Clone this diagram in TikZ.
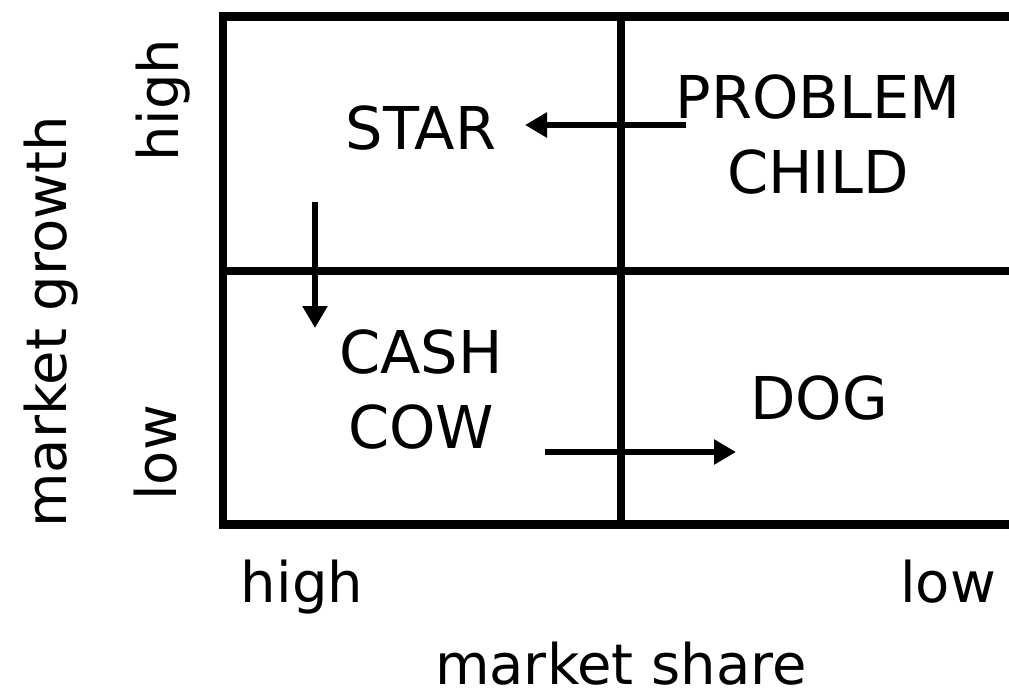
\documentclass[tikz,border=0pt]{standalone}
\usepackage{fontspec}
\setmainfont{DejaVu Sans}
\usetikzlibrary{arrows.meta}
\begin{document}
\begin{tikzpicture}[x=1pt,y=-1pt,
  grid/.style={line width=8.5pt},
  move/.style={line width=6pt,-{Triangle[length=22pt,width=24pt]}},
  lbl/.style={inner sep=0pt,font=\fontsize{56}{74}\selectfont},
  quadlbl/.style={inner sep=0pt,font=\fontsize{59}{75}\selectfont,align=center}]
\useasboundingbox (0,0) rectangle (1009,691);
\coordinate (tl) at (223,16.5);
\coordinate (tr) at (1009,16.5);
\coordinate (ml) at (223,271);
\coordinate (mr) at (1009,271);
\coordinate (bl) at (223,524.5);
\coordinate (br) at (1009,524.5);
\coordinate (vt) at (621,16.5);
\coordinate (vb) at (621,524.5);
\draw[grid] (tr) -- (tl) -- (bl) -- (br);
\draw[grid] (ml) -- (mr);
\draw[grid] (vt) -- (vb);
\node[quadlbl] (star) at (421,128) {STAR};
\node[quadlbl] (problem) at (818,135) {PROBLEM\\CHILD};
\node[quadlbl] (cash) at (421,390) {CASH\\COW};
\node[quadlbl] (dog) at (819,398) {DOG};
\node[lbl,anchor=base] (hx) at (302,602) {high};
\node[lbl,anchor=base] (lx) at (948,602) {low};
\node[lbl,anchor=base] (ms) at (621,684) {market share};
\node[lbl,rotate=90,anchor=base] (mg) at (66,322) {market growth};
\node[lbl,rotate=90,anchor=base] (hy) at (178,100) {high};
\node[lbl,rotate=90,anchor=base] (ly) at (176,453) {low};
\coordinate (a1s) at (686,125);
\coordinate (a1e) at (525,125);
\coordinate (a2s) at (315,202);
\coordinate (a2e) at (315,328);
\coordinate (a3s) at (545,452);
\coordinate (a3e) at (736,452);
\draw[move] (a1s) -- (a1e);
\draw[move] (a2s) -- (a2e);
\draw[move] (a3s) -- (a3e);
\end{tikzpicture}
\end{document}
